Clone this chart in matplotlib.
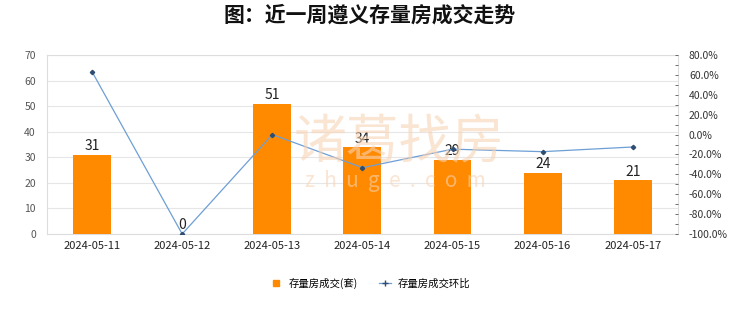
import matplotlib
matplotlib.use("Agg")
import matplotlib.pyplot as plt
from matplotlib.ticker import MultipleLocator, FuncFormatter
from matplotlib.lines import Line2D

plt.rcParams['font.family'] = ['Noto Sans CJK SC', 'DejaVu Sans']

dates = ["2024-05-11", "2024-05-12", "2024-05-13", "2024-05-14",
         "2024-05-15", "2024-05-16", "2024-05-17"]
volumes = [31, 0, 51, 34, 29, 24, 21]
mom_pct = [63.2, -100.0, 0.0, -33.3, -14.7, -17.2, -12.5]

title = "图：近一周遵义存量房成交走势"
bar_label = "存量房成交(套)"
line_label = "存量房成交环比"

fig = plt.figure(figsize=(7.4, 3.12), dpi=100)
ax = fig.add_axes([0.0635, 0.25, 0.8525, 0.5737])
x = range(len(dates))

# watermark (behind data)
fig.text(0.54, 0.545, "诸葛找房", fontsize=38, color="#f8d3b4", alpha=0.6, ha="center", va="center", zorder=0)
fig.text(0.535, 0.42, "z  h  u  g  e  .  c  o  m", fontsize=15, color="#f8d3b4", alpha=0.6, ha="center", va="center", zorder=0)

ax.bar(x, volumes, width=0.42, color="#FF8A00", zorder=3)
for xi, v in zip(x, volumes):
    ax.text(xi, v + 0.6, str(v), ha="center", va="bottom", fontsize=10, color="#222222", zorder=6)

ax.set_ylim(0, 70)
ax.set_xlim(-0.5, len(dates) - 0.5)
ax.yaxis.set_major_locator(MultipleLocator(10))
ax.grid(axis="y", color="#e6e6e6", lw=0.8, zorder=0)
ax.set_xticks(list(x))
ax.set_xticklabels(dates, fontsize=8, color="#222222")
ax.tick_params(axis="y", labelsize=7.5, labelcolor="#555555", length=0, pad=8)
ax.tick_params(axis="x", length=0, pad=5)
for s in ax.spines.values():
    s.set_color("#dddddd")
    s.set_linewidth(0.8)

ax2 = ax.twinx()
ax2.plot(list(x), mom_pct, color="#6d9fd6", lw=0.9, marker="D", markersize=2.2,
         markerfacecolor="#2f4d70", markeredgecolor="#2f4d70", zorder=5)
ax2.set_ylim(-100, 80)
ax2.yaxis.set_major_locator(MultipleLocator(20))
ax2.yaxis.set_minor_locator(MultipleLocator(10))
ax2.yaxis.set_major_formatter(FuncFormatter(lambda v, p: f"{v:.1f}%"))
ax2.tick_params(axis="y", which="both", direction="in", color="#555555", length=2.5, width=0.6,
                labelsize=7.5, labelcolor="#333333", pad=8)
for s in ax2.spines.values():
    s.set_visible(False)
ax.set_zorder(ax2.get_zorder() - 1)
ax.patch.set_visible(False)
ax2.patch.set_visible(False)

fig.text(0.5, 0.952, title, fontsize=15, fontweight="bold", ha="center", va="center", color="#111111")

handles = [Line2D([0], [0], marker="s", color="none", markerfacecolor="#FF8A00", markeredgecolor="#FF8A00", markersize=5),
           Line2D([0], [0], color="#6d9fd6", lw=0.9, marker="+", markersize=4,
                  markeredgecolor="#2f4d70")]
fig.legend(handles, [bar_label, line_label], loc="center", bbox_to_anchor=(0.5, 0.093), ncol=2,
           frameon=False, fontsize=7.5, handlelength=1.2, columnspacing=2.0, handletextpad=0.6)

fig.savefig("out.png", dpi=100)
